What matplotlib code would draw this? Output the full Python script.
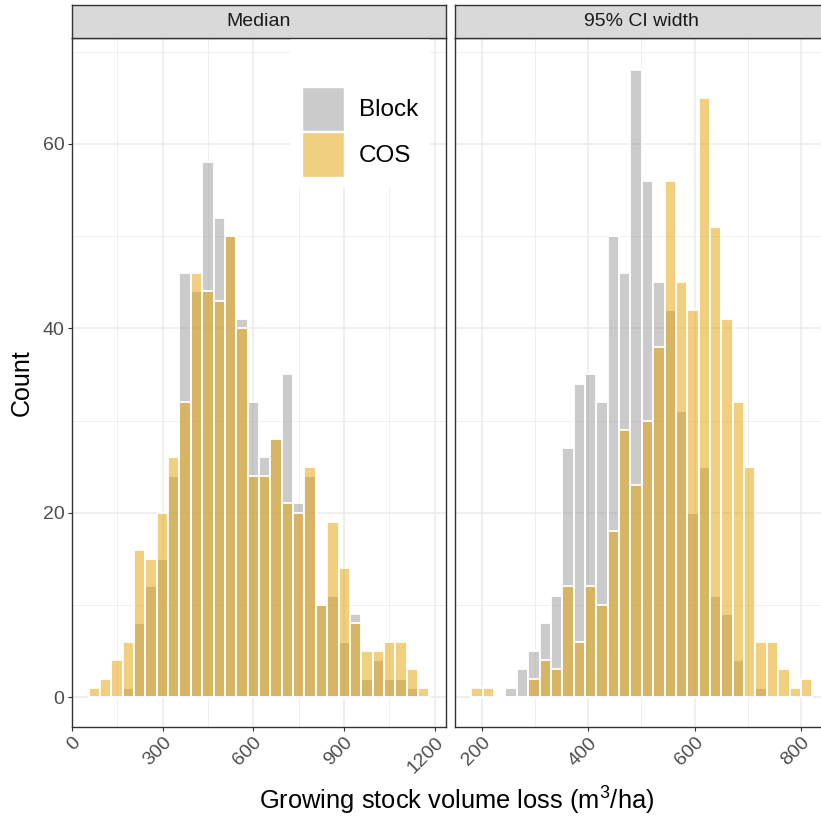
import matplotlib
matplotlib.use('Agg')
import matplotlib.pyplot as plt
from matplotlib.patches import Patch, Rectangle
from matplotlib.ticker import FixedLocator
import numpy as np

plt.rcParams['font.family'] = ['Liberation Sans', 'DejaVu Sans']
plt.rcParams['mathtext.fontset'] = 'custom'
plt.rcParams['mathtext.rm'] = 'Liberation Sans'
plt.rcParams['mathtext.it'] = 'Liberation Sans:italic'

# ---------------- data ----------------
series = ['Block', 'COS']
panels = ['Median', '95% CI width']

# Median panel: 30 histogram bins
median_first_center = 73.7
median_binwidth = 37.6
median_block = [0, 0, 0, 1, 8, 12, 15, 24, 46, 44, 58, 52, 50, 41, 32,
                26, 28, 35, 21, 24, 10, 11, 6, 9, 2, 4, 2, 2, 1, 0]
median_cos = [1, 2, 4, 6, 16, 15, 20, 26, 32, 46, 44, 43, 50, 40, 24,
              24, 28, 21, 20, 25, 10, 19, 14, 8, 5, 5, 6, 6, 3, 1]

# 95% CI width panel: 30 histogram bins
ciw_first_center = 191.2
ciw_binwidth = 21.36
ciw_block = [0, 0, 0, 1, 3, 5, 8, 11, 27, 34, 35, 32, 50, 46, 68,
             56, 45, 42, 31, 20, 25, 11, 9, 4, 0, 1, 0, 0, 0, 0]
ciw_cos = [1, 1, 0, 0, 0, 2, 4, 3, 12, 6, 12, 10, 18, 29, 23,
           30, 38, 56, 45, 42, 65, 51, 41, 32, 25, 6, 6, 3, 1, 2]

median_xticks = [0, 300, 600, 900, 1200]
ciw_xticks = [200, 400, 600, 800]
yticks = [0, 20, 40, 60]

# ---------------- style ----------------
W, H = 821, 818
col_block = (0.6, 0.6, 0.6, 0.5)
col_cos = (230 / 255, 159 / 255, 0.0, 0.5)
grid_col = '#EBEBEB'
dark = '#333333'
tick_txt = '#4D4D4D'

fig = plt.figure(figsize=(W / 100, H / 100), dpi=100)

def fx(px):
    return px / W

def fy(py):
    return 1 - py / H

panel_top, panel_bot = 38, 727
panel_w = 374.3
lefts = [71.7, 454.5]
ax_h = fy(panel_bot)
ax_height = fy(panel_top) - fy(panel_bot)

ylim = (-3.25, 71.5)
xlims = [(-1.0, 1237.8), (148.9, 852.4)]

datasets = [
    (median_first_center, median_binwidth, median_block, median_cos, median_xticks),
    (ciw_first_center, ciw_binwidth, ciw_block, ciw_cos, ciw_xticks),
]

axes = []
for i, (start, bw, blk, cos, xt) in enumerate(datasets):
    ax = fig.add_axes([fx(lefts[i]), ax_h, fx(panel_w), ax_height])
    axes.append(ax)
    centers = start + bw * np.arange(len(blk))
    ax.bar(centers, blk, width=bw, facecolor=col_block, edgecolor='white',
           linewidth=1.3, zorder=2)
    ax.bar(centers, cos, width=bw, facecolor=col_cos, edgecolor='white',
           linewidth=1.3, zorder=3)
    ax.set_xlim(*xlims[i])
    ax.set_ylim(*ylim)
    ax.xaxis.set_major_locator(FixedLocator(xt))
    step = xt[1] - xt[0]
    minors = [t + step / 2 for t in [xt[0] - step] + xt]
    ax.xaxis.set_minor_locator(FixedLocator(minors))
    ax.yaxis.set_major_locator(FixedLocator(yticks))
    ax.yaxis.set_minor_locator(FixedLocator([10, 30, 50, 70]))
    ax.set_axisbelow(True)
    ax.grid(which='major', color=grid_col, linewidth=1.1, zorder=0)
    ax.grid(which='minor', color=grid_col, linewidth=0.55, zorder=0)
    ax.tick_params(which='minor', length=0)
    ax.tick_params(which='major', length=3.2, width=0.8, color=dark,
                   labelcolor=tick_txt, labelsize=14, pad=2)
    for s in ax.spines.values():
        s.set_color(dark)
        s.set_linewidth(1.0)
    for lab in ax.get_xticklabels():
        lab.set_rotation(45)
        lab.set_ha('right')
        lab.set_va('top')
        lab.set_rotation_mode('anchor')
    if i == 1:
        ax.tick_params(axis='y', left=False, labelleft=False)

    # facet strip
    sax = fig.add_axes([fx(lefts[i]), fy(panel_top), fx(panel_w), fy(5) - fy(panel_top)])
    sax.set_facecolor('#D9D9D9')
    sax.set_xticks([])
    sax.set_yticks([])
    for s in sax.spines.values():
        s.set_color(dark)
        s.set_linewidth(1.0)
    sax.text(0.5, 0.5, panels[i], ha='center', va='center', fontsize=14,
             color='#1A1A1A', transform=sax.transAxes)

# legend inside left panel
ax0 = axes[0]
def axx(px):
    return (px - lefts[0]) / panel_w
def axy(py):
    return (panel_bot - py) / (panel_bot - panel_top)

ax0.add_patch(Rectangle((axx(290), axy(187)), axx(430) - axx(290), 1 - axy(187),
                        transform=ax0.transAxes, facecolor='white', edgecolor='none',
                        zorder=4))
handles = [Patch(facecolor=col_block, edgecolor='white'),
           Patch(facecolor=col_cos, edgecolor='white')]
leg = ax0.legend(handles, series, loc='upper left',
                 bbox_to_anchor=(axx(301.7), axy(86.5)), frameon=False,
                 fontsize=17.5, handlelength=1.75, handleheight=2.45,
                 labelspacing=0.05, handletextpad=0.6, borderpad=0,
                 borderaxespad=0)
leg.set_zorder(6)

fig.text(fx(457), fy(801), r'Growing stock volume loss (m$^{3}$/ha)',
         ha='center', va='center', fontsize=18.4, color='black')
fig.text(fx(22), fy(382.5), 'Count', ha='center', va='center', rotation=90,
         fontsize=18, color='black')

fig.savefig('out.png', dpi=100)
